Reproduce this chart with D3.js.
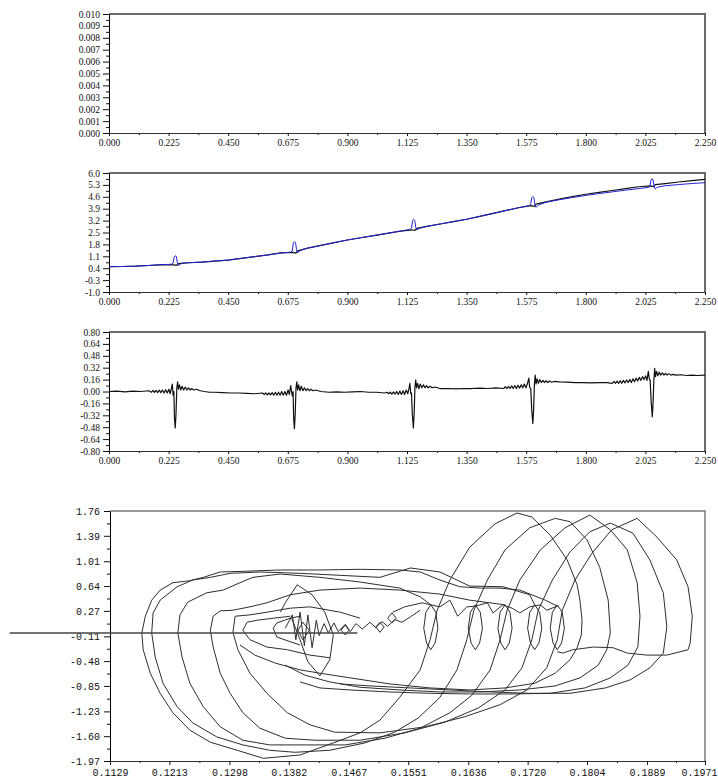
<!DOCTYPE html>
<html>
<head>
<meta charset="utf-8">
<script src="https://cdn.jsdelivr.net/npm/d3@7/dist/d3.min.js"></script>
<style>
body { margin: 0; background: #fff; }
svg text { font-family: "Liberation Serif", serif; font-size: 9.5px; fill: #111; }
.mono text { font-family: "Liberation Mono", monospace; font-size: 10px; }
</style>
</head>
<body>
<div id="chart"></div>
<script>
// ---- tick labels ----
var timeLabels = ["0.000","0.225","0.450","0.675","0.900","1.125","1.350","1.575","1.800","2.025","2.250"];
var p1YLabels = ["0.000","0.001","0.002","0.003","0.004","0.005","0.006","0.007","0.008","0.009","0.010"];
var p2YLabels = ["-1.0","-0.3","0.4","1.1","1.8","2.5","3.2","3.9","4.6","5.3","6.0"];
var p3YLabels = ["-0.80","-0.64","-0.48","-0.32","-0.16","0.00","0.16","0.32","0.48","0.64","0.80"];
var p4XLabels = ["0.1129","0.1213","0.1298","0.1382","0.1467","0.1551","0.1636","0.1720","0.1804","0.1889","0.1971"];
var p4YLabels = ["-1.97","-1.60","-1.23","-0.85","-0.48","-0.11","0.27","0.64","1.01","1.39","1.76"];

// ---- panel 2: two series [t, value] ----
var p2Black = [[0,0.49],[0.05,0.50],[0.10,0.52],[0.15,0.56],[0.20,0.61],[0.245,0.60],[0.255,0.57],[0.262,0.67],[0.30,0.72],[0.35,0.76],
  [0.40,0.82],[0.45,0.88],[0.50,0.98],[0.55,1.08],[0.60,1.18],[0.65,1.30],[0.695,1.33],[0.705,1.28],[0.712,1.42],[0.75,1.58],
  [0.80,1.74],[0.85,1.90],[0.90,2.06],[0.95,2.19],[1.00,2.32],[1.05,2.45],[1.10,2.58],[1.145,2.66],[1.155,2.62],[1.162,2.74],
  [1.20,2.86],[1.25,3.00],[1.30,3.14],[1.35,3.28],[1.40,3.45],[1.45,3.62],[1.50,3.80],[1.55,3.97],[1.595,4.08],[1.605,4.03],
  [1.612,4.17],[1.65,4.30],[1.70,4.46],[1.75,4.61],[1.80,4.75],[1.85,4.86],[1.90,4.97],[1.95,5.08],[2.00,5.19],[2.045,5.24],
  [2.055,5.20],[2.062,5.32],[2.10,5.38],[2.15,5.47],[2.20,5.55],[2.25,5.63]];
var p2Blue = [[0,0.49],[0.05,0.50],[0.10,0.52],[0.15,0.56],[0.20,0.61],[0.235,0.63],[0.242,0.70],[0.246,1.05],[0.250,1.13],[0.254,1.10],
  [0.258,0.75],[0.262,0.55],[0.268,0.62],[0.275,0.70],[0.30,0.72],[0.35,0.76],[0.40,0.82],[0.45,0.88],[0.50,0.98],[0.55,1.08],
  [0.60,1.18],[0.65,1.30],[0.685,1.34],[0.692,1.42],[0.696,1.90],[0.700,1.97],[0.704,1.92],[0.708,1.50],[0.712,1.30],[0.718,1.40],
  [0.725,1.46],[0.75,1.58],[0.80,1.74],[0.85,1.90],[0.90,2.06],[0.95,2.19],[1.00,2.32],[1.05,2.45],[1.10,2.58],[1.135,2.68],
  [1.142,2.76],[1.146,3.20],[1.150,3.28],[1.154,3.22],[1.158,2.80],[1.162,2.64],[1.168,2.72],[1.175,2.76],[1.20,2.86],[1.25,3.00],
  [1.30,3.14],[1.35,3.28],[1.40,3.45],[1.45,3.62],[1.50,3.80],[1.55,3.97],[1.585,4.08],[1.592,4.15],[1.596,4.55],[1.600,4.62],
  [1.604,4.56],[1.608,4.15],[1.612,3.98],[1.618,4.08],[1.625,4.14],[1.65,4.28],[1.70,4.43],[1.75,4.56],[1.80,4.68],[1.85,4.79],
  [1.90,4.89],[1.95,4.99],[2.00,5.08],[2.035,5.15],[2.042,5.20],[2.046,5.58],[2.050,5.66],[2.054,5.60],[2.058,5.20],[2.062,5.05],
  [2.068,5.14],[2.075,5.18],[2.10,5.25],[2.15,5.32],[2.20,5.38],[2.25,5.43]];

// ---- panel 3: one series [t, value] ----
var p3Signal = [[0,0],[0.03,0.005],[0.06,-0.005],[0.09,0.005],[0.12,0],[0.15,0.01],
  [0.160,-0.01],[0.166,0.015],[0.172,-0.01],[0.178,0.015],[0.184,-0.015],[0.190,0.02],[0.196,-0.015],[0.202,0.02],[0.208,-0.02],
  [0.214,0.025],[0.220,-0.02],[0.226,0.03],[0.231,-0.03],[0.236,0.05],[0.239,0.10],[0.242,-0.05],[0.245,0],[0.247,-0.35],[0.250,-0.49],
  [0.253,-0.30],[0.256,0.05],[0.259,0.13],[0.262,0.03],[0.266,0.09],[0.271,0.02],[0.276,0.07],[0.282,0.02],[0.288,0.06],[0.294,0.02],
  [0.300,0.05],[0.306,0.02],[0.312,0.04],[0.320,0.02],[0.330,0.03],[0.345,0.01],[0.36,0],[0.38,-0.01],[0.40,-0.01],[0.43,-0.015],
  [0.46,-0.02],[0.49,-0.02],[0.52,-0.025],[0.55,-0.03],[0.58,-0.02],[0.586,-0.04],[0.592,-0.02],[0.598,-0.045],[0.604,-0.02],
  [0.610,-0.045],[0.616,-0.015],[0.622,-0.05],[0.628,-0.01],[0.634,-0.05],[0.640,-0.01],[0.646,-0.05],[0.652,0],[0.658,-0.05],
  [0.664,0],[0.670,-0.05],[0.676,0.02],[0.681,-0.04],[0.686,0.08],[0.689,0],[0.692,-0.06],[0.695,0],[0.697,-0.35],[0.700,-0.50],
  [0.703,-0.30],[0.706,0.05],[0.709,0.13],[0.712,0.02],[0.716,0.09],[0.721,0.01],[0.726,0.07],[0.732,0.01],[0.738,0.05],[0.744,0.01],
  [0.750,0.04],[0.756,0.01],[0.762,0.03],[0.77,0.01],[0.78,0.02],[0.80,0],[0.83,-0.01],[0.86,-0.005],[0.89,-0.01],[0.92,-0.005],
  [0.95,0],[0.98,-0.01],[1.01,-0.01],[1.04,-0.02],[1.05,-0.01],[1.056,-0.03],[1.062,-0.01],[1.068,-0.035],[1.074,-0.005],[1.080,-0.035],
  [1.086,0],[1.092,-0.04],[1.098,0.005],[1.104,-0.04],[1.110,0.01],[1.116,-0.04],[1.122,0.02],[1.128,-0.03],[1.133,0.05],[1.136,0.11],
  [1.139,-0.03],[1.142,-0.02],[1.145,-0.30],[1.149,-0.49],[1.152,-0.30],[1.155,0.06],[1.158,0.155],[1.161,0.05],[1.165,0.11],[1.170,0.04],
  [1.175,0.10],[1.181,0.05],[1.187,0.09],[1.193,0.05],[1.199,0.08],[1.205,0.05],[1.212,0.07],[1.22,0.05],[1.23,0.06],[1.25,0.04],
  [1.28,0.04],[1.31,0.035],[1.34,0.04],[1.37,0.04],[1.40,0.045],[1.43,0.04],[1.46,0.05],[1.49,0.04],[1.496,0.065],[1.502,0.04],
  [1.508,0.07],[1.514,0.04],[1.520,0.075],[1.526,0.04],[1.532,0.08],[1.538,0.04],[1.544,0.085],[1.550,0.045],[1.556,0.09],[1.562,0.05],
  [1.568,0.10],[1.574,0.05],[1.580,0.11],[1.585,0.18],[1.588,0.06],[1.592,0.04],[1.596,-0.25],[1.600,-0.43],[1.603,-0.25],[1.606,0.10],
  [1.609,0.22],[1.612,0.10],[1.616,0.17],[1.621,0.11],[1.626,0.16],[1.632,0.12],[1.638,0.15],[1.644,0.12],[1.650,0.145],[1.656,0.12],
  [1.663,0.14],[1.67,0.125],[1.68,0.135],[1.70,0.13],[1.73,0.125],[1.76,0.12],[1.79,0.12],[1.82,0.115],[1.85,0.12],[1.88,0.12],
  [1.90,0.11],[1.906,0.135],[1.912,0.11],[1.918,0.14],[1.924,0.11],[1.930,0.145],[1.936,0.11],[1.942,0.15],[1.948,0.115],[1.954,0.155],
  [1.960,0.12],[1.966,0.16],[1.972,0.12],[1.978,0.17],[1.984,0.13],[1.990,0.18],[1.996,0.14],[2.002,0.19],[2.008,0.15],[2.014,0.20],
  [2.020,0.16],[2.026,0.21],[2.031,0.15],[2.036,0.27],[2.040,0.17],[2.043,0.15],[2.047,-0.15],[2.051,-0.34],[2.054,-0.15],[2.057,0.15],
  [2.060,0.31],[2.063,0.20],[2.067,0.27],[2.072,0.21],[2.077,0.26],[2.083,0.22],[2.089,0.25],[2.095,0.22],[2.101,0.245],[2.107,0.22],
  [2.114,0.24],[2.121,0.22],[2.13,0.23],[2.14,0.22],[2.16,0.225],[2.18,0.215],[2.20,0.22],[2.22,0.215],[2.25,0.22]];

// ---- panel 4: phase portrait, traced curve pieces [x, y] ----
var loop0 = [[0.1174,-0.06],[0.1176,-0.31],[0.1186,-0.66],[0.1200,-0.96],[0.1218,-1.25],[0.1242,-1.51],[0.1271,-1.69],[0.1309,-1.81],
  [0.1346,-1.93],[0.1398,-1.88],[0.1445,-1.70],[0.1483,-1.55],[0.1511,-1.36],[0.1539,-1.02],[0.1568,-0.61],[0.1582,-0.16],[0.1592,0.28],
  [0.1610,0.73],[0.1638,1.22],[0.1674,1.57],[0.1705,1.73],[0.1726,1.67],[0.1752,1.40],[0.1776,1.03],[0.1790,0.66],[0.1794,0.43],
  [0.1797,0.13],[0.1796,-0.09],[0.1790,-0.28],[0.1780,-0.46],[0.1759,-0.66],[0.1730,-0.81],[0.1688,-0.88],[0.1638,-0.91],[0.1582,-0.88],
  [0.1525,-0.82],[0.1469,-0.73],[0.1426,-0.66],[0.1398,-0.61],[0.1363,-0.51],[0.1334,-0.39],[0.1313,-0.24]];
var loop1 = [[0.1188,-0.06],[0.1193,-0.42],[0.1204,-0.81],[0.1224,-1.16],[0.1246,-1.40],[0.1280,-1.61],[0.1317,-1.73],[0.1355,-1.81],
  [0.1391,-1.84],[0.1440,-1.81],[0.1490,-1.70],[0.1532,-1.54],[0.1565,-1.33],[0.1596,-1.02],[0.1620,-0.61],[0.1634,-0.16],[0.1644,0.28],
  [0.1663,0.73],[0.1688,1.18],[0.1723,1.51],[0.1759,1.65],[0.1780,1.60],[0.1804,1.33],[0.1822,0.92],[0.1834,0.43],[0.1837,-0.06],
  [0.1832,-0.31],[0.1820,-0.54],[0.1794,-0.73],[0.1759,-0.85],[0.1709,-0.91],[0.1653,-0.94],[0.1596,-0.94],[0.1539,-0.91],[0.1483,-0.87],
  [0.1440,-0.79],[0.1405,-0.69],[0.1377,-0.54]];
var loop2 = [[0.1225,-0.06],[0.1231,-0.42],[0.1242,-0.81],[0.1261,-1.16],[0.1285,-1.46],[0.1317,-1.66],[0.1355,-1.73],[0.1405,-1.73],
  [0.1462,-1.73],[0.1518,-1.63],[0.1568,-1.48],[0.1610,-1.25],[0.1641,-0.99],[0.1667,-0.61],[0.1681,-0.16],[0.1691,0.28],[0.1709,0.73],
  [0.1738,1.18],[0.1773,1.51],[0.1808,1.70],[0.1837,1.48],[0.1861,1.18],[0.1875,0.69],[0.1879,0.19],[0.1876,-0.27],[0.1862,-0.54],
  [0.1837,-0.73],[0.1801,-0.88],[0.1752,-0.96],[0.1695,-0.97],[0.1638,-0.97],[0.1582,-0.96],[0.1525,-0.94],[0.1469,-0.91],[0.1426,-0.88],
  [0.1398,-0.79]];
var loop3 = [[0.1271,-0.02],[0.1275,-0.27],[0.1285,-0.66],[0.1299,-0.96],[0.1317,-1.25],[0.1341,-1.48],[0.1377,-1.63],[0.1419,-1.66],
  [0.1483,-1.66],[0.1546,-1.55],[0.1603,-1.39],[0.1650,-1.18],[0.1688,-0.91],[0.1712,-0.58],[0.1726,-0.16],[0.1735,0.28],[0.1755,0.73],
  [0.1780,1.15],[0.1808,1.45],[0.1837,1.58],[0.1869,1.43],[0.1893,1.03],[0.1912,0.54],[0.1917,0.03],[0.1912,-0.36],[0.1893,-0.58],
  [0.1865,-0.76],[0.1830,-0.88],[0.1780,-0.96],[0.1723,-0.96],[0.1667,-0.94],[0.1610,-0.91],[0.1554,-0.88],[0.1497,-0.85],[0.1455,-0.82]];
var loop4 = [[0.1303,-0.05],[0.1310,-0.31],[0.1327,-0.66],[0.1351,-0.96],[0.1380,-1.25],[0.1412,-1.43],[0.1447,-1.54],[0.1511,-1.55],
  [0.1575,-1.46],[0.1631,-1.31],[0.1681,-1.13],[0.1719,-0.91],[0.1747,-0.58],[0.1762,-0.16],[0.1769,0.28],[0.1787,0.73],[0.1811,1.13],
  [0.1839,1.48],[0.1875,1.65],[0.1903,1.37],[0.1931,1.03],[0.1947,0.63],[0.1953,0.19],[0.1950,-0.21],[0.1947,-0.31],[0.1917,-0.39],
  [0.1889,-0.39],[0.1861,-0.36],[0.1841,-0.28],[0.1813,-0.27],[0.1784,-0.31],[0.1770,-0.36],[0.1762,-0.34]];
var upper1 = [[0.1174,-0.06],[0.1179,0.19],[0.1188,0.43],[0.1200,0.58],[0.1218,0.69],[0.1242,0.72],[0.1261,0.77],[0.1285,0.85],
  [0.1317,0.86],[0.1370,0.88],[0.1426,0.88],[0.1483,0.89],[0.1539,0.88],[0.1568,0.85],[0.1596,0.73],[0.1624,0.63],[0.1653,0.61],
  [0.1681,0.61],[0.1709,0.58],[0.1745,0.43],[0.1762,0.34]];
var upper2 = [[0.1188,-0.06],[0.1190,0.24],[0.1200,0.43],[0.1224,0.63],[0.1246,0.73],[0.1271,0.77],[0.1299,0.83],[0.1341,0.85],
  [0.1398,0.83],[0.1455,0.80],[0.1511,0.77],[0.1554,0.91],[0.1596,0.85],[0.1638,0.64],[0.1685,0.63],[0.1723,0.51],[0.1730,0.36]];
var upper3 = [[0.1225,-0.06],[0.1228,0.21],[0.1239,0.40],[0.1266,0.54],[0.1289,0.58],[0.1313,0.69],[0.1331,0.77],[0.1370,0.82],
  [0.1426,0.77],[0.1483,0.70],[0.1539,0.61],[0.1568,0.48],[0.1583,0.36]];
var upper4 = [[0.1271,-0.02],[0.1275,0.19],[0.1285,0.27],[0.1303,0.28],[0.1327,0.33],[0.1351,0.39],[0.1384,0.51],[0.1426,0.58],
  [0.1483,0.61],[0.1539,0.58],[0.1596,0.52],[0.1638,0.43],[0.1688,0.36]];
var upper5 = [[0.1303,-0.05],[0.1306,0.19],[0.1327,0.21],[0.1351,0.25],[0.1384,0.31],[0.1412,0.33],[0.1455,0.25],[0.1483,0.16]];
var inner1 = [[0.1384,0.19],[0.1360,0.16],[0.1337,0.13],[0.1323,0.10],[0.1317,-0.02],[0.1327,-0.16],[0.1351,-0.27],[0.1380,-0.31],
  [0.1412,-0.39],[0.1440,-0.43]];
var inner2 = [[0.1398,0.19],[0.1384,0.16],[0.1365,0.09],[0.1360,0.01],[0.1365,-0.12],[0.1384,-0.19],[0.1398,-0.24]];
var lens = [[0.1370,0.25],[0.1377,0.39],[0.1394,0.66],[0.1415,0.51],[0.1433,0.25],[0.1445,-0.09],[0.1440,-0.46],[0.1426,-0.70],
  [0.1409,-0.49],[0.1398,-0.16],[0.1386,0.16]];
var knot = [[0.1377,0.01],[0.1387,0.21],[0.1392,-0.16],[0.1398,0.25],[0.1404,-0.25],[0.1409,0.21],[0.1415,-0.28],[0.1421,0.13],
  [0.1425,-0.10],[0.1432,0.08],[0.1438,-0.06],[0.1446,0.09],[0.1452,-0.04],[0.1462,0.07],[0.1469,-0.04],[0.1477,0.08],[0.1486,0.00],
  [0.1497,0.10],[0.1505,0.02],[0.1514,0.11],[0.1522,0.04],[0.1532,0.14],[0.1542,0.10],[0.1554,0.18],[0.1568,0.28]];
var ring1 = [[0.1395,-0.02],[0.1402,0.10],[0.1411,-0.02],[0.1402,-0.16],[0.1395,-0.02]];
var ring2 = [[0.1456,-0.02],[0.1462,0.06],[0.1467,-0.02],[0.1462,-0.09],[0.1456,-0.02]];
var ring3 = [[0.1505,0.03],[0.1511,0.10],[0.1517,0.03],[0.1511,-0.05],[0.1505,0.03]];
var ring4 = [[0.1522,0.16],[0.1528,0.24],[0.1534,0.16],[0.1528,0.09],[0.1522,0.16]];
var mLine = [[0.1529,0.25],[0.1546,0.33],[0.1558,0.36],[0.1571,0.39],[0.1583,0.36],[0.1596,0.33],[0.1610,0.43],[0.1621,0.19],
  [0.1634,0.33],[0.1646,0.34],[0.1663,0.39],[0.1671,0.24],[0.1685,0.36],[0.1698,0.31],[0.1709,0.24],[0.1723,0.33],[0.1738,0.36],
  [0.1747,0.28],[0.1762,0.34]];
var oval1 = [[0.1583,0.36],[0.1590,0.25],[0.1593,0.01],[0.1589,-0.21],[0.1583,-0.31],[0.1577,-0.21],[0.1573,0.01],[0.1576,0.25],[0.1583,0.36]];
var oval2 = [[0.1646,0.36],[0.1653,0.25],[0.1656,0.01],[0.1652,-0.21],[0.1646,-0.31],[0.1640,-0.21],[0.1636,0.01],[0.1639,0.25],[0.1646,0.36]];
var oval3 = [[0.1688,0.36],[0.1695,0.25],[0.1698,0.01],[0.1694,-0.21],[0.1688,-0.31],[0.1682,-0.21],[0.1678,0.01],[0.1681,0.25],[0.1688,0.36]];
var oval4 = [[0.1730,0.36],[0.1737,0.25],[0.1740,0.01],[0.1736,-0.21],[0.1730,-0.31],[0.1724,-0.21],[0.1720,0.01],[0.1723,0.25],[0.1730,0.36]];
var oval5 = [[0.1762,0.36],[0.1769,0.25],[0.1772,0.01],[0.1768,-0.21],[0.1762,-0.31],[0.1756,-0.21],[0.1752,0.01],[0.1755,0.25],[0.1762,0.36]];
var startLine = [[0.0987,-0.06],[0.1479,-0.06]];

var phaseCurves = [loop0, loop1, loop2, loop3, loop4, upper1, upper2, upper3, upper4, upper5,
  inner1, inner2, lens, knot, ring1, ring2, ring3, ring4, mLine, oval1, oval2, oval3, oval4, oval5];

var svg = d3.select("#chart").append("svg")
  .attr("width", 718)
  .attr("height", 778);

var right = 705;

function mids(v) {
  return v.slice(1).map(function(d, i) { return (d + v[i]) / 2; });
}

// one framed panel with left/bottom axes, minor ticks and a grey top/right border
function panel(o) {
  var g = svg.append("g").attr("class", o.cls || "");
  var x = d3.scaleLinear().domain(o.xDomain).range([o.left, right]);
  var y = d3.scaleLinear().domain(o.yDomain).range([o.bottom, o.top]);
  var xv = o.xLabels.map(Number), yv = o.yLabels.map(Number);

  g.append("path")
    .attr("d", "M" + o.left + "," + o.top + "H" + right + "V" + o.bottom)
    .attr("fill", "none")
    .attr("stroke", o.border)
    .attr("stroke-width", o.borderW);

  // minor ticks
  g.append("g").attr("transform", "translate(0," + o.bottom + ")")
    .call(d3.axisBottom(x).tickValues(mids(xv)).tickSize(2).tickFormat(""))
    .call(function(s) { s.select(".domain").remove(); });
  g.append("g").attr("transform", "translate(" + o.left + ",0)")
    .call(d3.axisLeft(y).tickValues(mids(yv)).tickSize(3).tickFormat(""))
    .call(function(s) { s.select(".domain").remove(); });

  // major ticks + labels
  var xAxis = g.append("g").attr("class", "x-axis").attr("transform", "translate(0," + o.bottom + ")")
    .call(d3.axisBottom(x).tickValues(xv).tickSize(o.xTick).tickSizeOuter(0).tickPadding(o.xPad)
      .tickFormat(function(d, i) { return o.xLabels[i]; }))
    .call(function(s) { s.select(".domain").attr("stroke", o.axisColor); });
  g.append("g").attr("transform", "translate(" + o.left + ",0)")
    .call(d3.axisLeft(y).tickValues(yv).tickSize(6).tickSizeOuter(0).tickPadding(o.yPad)
      .tickFormat(function(d, i) { return o.yLabels[i]; }));

  g.selectAll(".tick line").attr("stroke", "#111");
  return { g: g, x: x, y: y, xAxis: xAxis };
}

function drawLine(p, data, color, width) {
  var line = d3.line()
    .x(function(d) { return p.x(d[0]); })
    .y(function(d) { return p.y(d[1]); });
  p.g.append("path")
    .datum(data)
    .attr("d", line)
    .attr("fill", "none")
    .attr("stroke", color)
    .attr("stroke-width", width)
    .attr("stroke-linejoin", "round");
}

var base = { left: 109, xLabels: timeLabels, xDomain: [0, 2.25], xTick: 3, xPad: 3, yPad: 3,
  border: "#6a6a6a", borderW: 2, axisColor: "#333" };

// panel 1 (empty)
panel(Object.assign({}, base, { top: 14, bottom: 133, yLabels: p1YLabels, yDomain: [0, 0.01] }));

// panel 2
var p2 = panel(Object.assign({}, base, { top: 173, bottom: 292, yLabels: p2YLabels, yDomain: [-1, 6] }));
drawLine(p2, p2Black, "#111", 1.2);
drawLine(p2, p2Blue, "#2424d4", 1);

// panel 3
var p3 = panel(Object.assign({}, base, { top: 332, bottom: 451, yLabels: p3YLabels, yDomain: [-0.8, 0.8] }));
drawLine(p3, p3Signal, "#111", 1.2);

// panel 4 (phase plot)
var p4 = panel({ cls: "mono", left: 110, top: 511, bottom: 761, xLabels: p4XLabels, yLabels: p4YLabels,
  xDomain: [0.1129, 0.1971], yDomain: [-1.97, 1.76], xTick: 4, xPad: 4, yPad: 4,
  border: "#7a7a7a", borderW: 1.5, axisColor: "#333" });
phaseCurves.forEach(function(c) { drawLine(p4, c, "#2e2e2e", 1); });
drawLine(p4, startLine, "#444", 1.4);

// keep the last x label inside the window
p4.xAxis.selectAll(".tick").filter(function(d, i) { return i === p4XLabels.length - 1; })
  .select("text").attr("text-anchor", "end").attr("x", 12);
</script>
</body>
</html>
